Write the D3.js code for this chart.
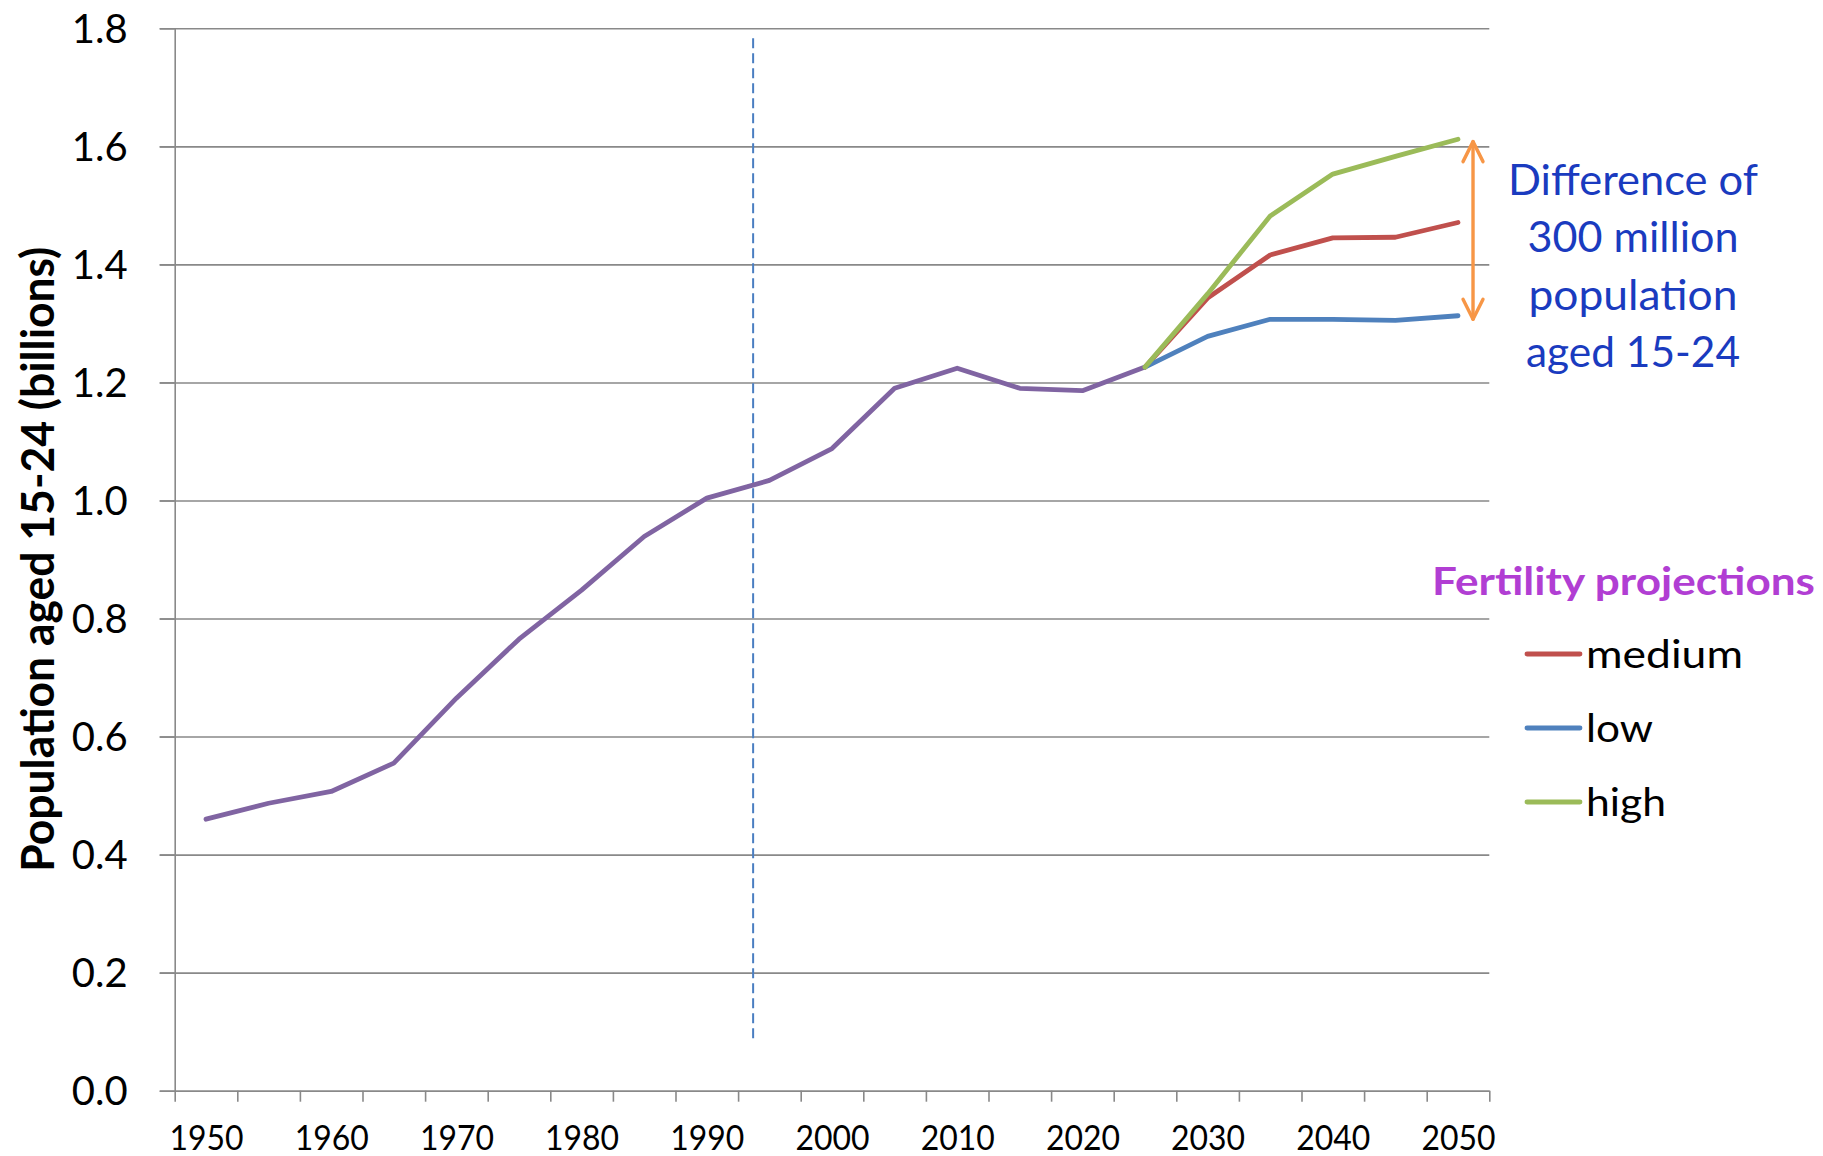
<!DOCTYPE html>
<html>
<head>
<meta charset="utf-8">
<script src="https://cdn.jsdelivr.net/npm/d3@7"></script>
<style>
  body { margin: 0; background: #ffffff; }
  svg { display: block; }
  text { font-family: Lato, "Open Sans", "Noto Sans", sans-serif; }
</style>
</head>
<body>
<svg id="chart" width="1823" height="1156"></svg>
<script>
// ---------------- data ----------------
const years = [1950,1955,1960,1965,1970,1975,1980,1985,1990,1995,2000,2005,2010,2015,2020,2025,2030,2035,2040,2045,2050];
const tickLabels = ["1950","1960","1970","1980","1990","2000","2010","2020","2030","2040","2050"];
const yTicks = [0,0.2,0.4,0.6,0.8,1.0,1.2,1.4,1.6,1.8];

const estimateYears = [1950,1955,1960,1965,1970,1975,1980,1985,1990,1995,2000,2005,2010,2015,2020,2025];
const estimates = [0.460,0.487,0.507,0.555,0.665,0.765,0.848,0.939,1.004,1.034,1.088,1.190,1.224,1.190,1.186,1.226];

const projYears = [2025,2030,2035,2040,2045,2050];
const medium = [1.226,1.343,1.416,1.445,1.446,1.471];
const low    = [1.226,1.278,1.307,1.307,1.305,1.313];
const high   = [1.226,1.350,1.482,1.553,1.583,1.612];

const seriesNames = ["medium","low","high"];
const legendTitle = "Fertility projections";
const yTitle = "Population aged 15-24 (billions)";
const noteLines = ["Difference of","300 million","population","aged 15-24"];

const markerYear = 1993.7;          // dashed vertical reference line
const markerRange = [0.088, 1.783];
const arrowYear = 2051.2;           // double-headed arrow
const arrowRange = [1.307, 1.608];

// ---------------- layout ----------------
const colors = { estimate:"#8064A2", medium:"#C0504D", low:"#4F81BD", high:"#9BBB59" };
const gridColor = "#898989";
const svg = d3.select("#chart");

const plotL = 174.7, plotR = 1489.3, plotT = 28.3, plotB = 1090.7;
const x = d3.scaleLinear().domain([1947.5, 2052.5]).range([plotL, plotR]);
const y = d3.scaleLinear().domain([0, 1.8]).range([plotB, plotT]);

// gridlines
const grid = svg.append("g").attr("transform", `translate(${plotL - 15},0)`)
  .call(d3.axisRight(y).tickValues(yTicks).tickSize(plotR - plotL + 15).tickFormat(""));
grid.select(".domain").remove();
grid.selectAll("line").attr("stroke", gridColor).attr("stroke-width", 1.6);

// y axis
const yAxis = svg.append("g").attr("transform", `translate(${plotL},0)`)
  .call(d3.axisLeft(y).tickValues(yTicks).tickSize(15).tickSizeOuter(0).tickFormat(d3.format(".1f")));
yAxis.select(".domain").attr("stroke", gridColor).attr("stroke-width", 1.6);
yAxis.selectAll("line").attr("stroke", gridColor).attr("stroke-width", 1.6);
yAxis.selectAll("text")
  .attr("x", -47).attr("dy", 14)
  .attr("font-size", 40).attr("fill", "#000")
  .style("font-family", "Lato, sans-serif");

// x axis (category boundaries as ticks)
const boundaries = d3.range(0, years.length + 1).map(i => 1947.5 + 5 * i);
const xAxis = svg.append("g").attr("transform", `translate(0,${plotB})`)
  .call(d3.axisBottom(x).tickValues(boundaries).tickSize(11).tickSizeOuter(0).tickFormat(""));
xAxis.select(".domain").attr("stroke", gridColor).attr("stroke-width", 1.6);
xAxis.selectAll("line").attr("stroke", gridColor).attr("stroke-width", 1.6);

const labelYears = tickLabels.map(Number);
const xLab = svg.append("g").attr("transform", `translate(0,${plotB})`)
  .call(d3.axisBottom(x).tickValues(labelYears).tickSize(0).tickFormat((d, i) => tickLabels[i]));
xLab.select(".domain").remove();
xLab.selectAll("text")
  .attr("y", 59).attr("dy", 0)
  .attr("font-size", 34).attr("fill", "#000")
  .attr("textLength", 74).attr("lengthAdjust", "spacingAndGlyphs")
  .style("font-family", "Lato, sans-serif");

// y title
svg.append("text")
  .attr("transform", `translate(54,${(246.7 + 871.7) / 2}) rotate(-90)`)
  .attr("text-anchor", "middle")
  .attr("font-size", 46).attr("font-weight", "bold").attr("fill", "#000")
  .attr("textLength", 625).attr("lengthAdjust", "spacingAndGlyphs")
  .text(yTitle);

// dashed reference line
svg.append("line")
  .attr("x1", x(markerYear)).attr("x2", x(markerYear))
  .attr("y1", y(markerRange[1])).attr("y2", y(markerRange[0]))
  .attr("stroke", "#4A7EC1").attr("stroke-width", 2).attr("stroke-dasharray", "10,5");

// series
const line = d3.line().x(d => x(d[0])).y(d => y(d[1]));
function drawSeries(xs, vs, color) {
  svg.append("path")
    .datum(xs.map((yr, i) => [yr, vs[i]]))
    .attr("d", line)
    .attr("fill", "none").attr("stroke", color).attr("stroke-width", 4.8)
    .attr("stroke-linecap", "round").attr("stroke-linejoin", "round");
}
drawSeries(estimateYears, estimates, colors.estimate);
const projData = { medium, low, high };
seriesNames.forEach(n => drawSeries(projYears, projData[n], colors[n]));

// double-headed arrow
const ax = x(arrowYear), ayTop = y(arrowRange[1]), ayBot = y(arrowRange[0]);
const arrow = svg.append("g").attr("stroke", "#F79646").attr("stroke-width", 3.4)
  .attr("fill", "none").attr("stroke-linecap", "round").attr("stroke-linejoin", "round");
arrow.append("line").attr("x1", ax).attr("x2", ax).attr("y1", ayTop).attr("y2", ayBot);
arrow.append("path").attr("d", `M${ax - 10},${ayTop + 20}L${ax},${ayTop}L${ax + 10},${ayTop + 20}`);
arrow.append("path").attr("d", `M${ax - 10},${ayBot - 20}L${ax},${ayBot}L${ax + 10},${ayBot - 20}`);

// annotation text
const noteWidths = [250, 211, 209, 214];
const noteBaselines = [195, 252, 310, 367];
svg.append("g").selectAll("text").data(noteLines).join("text")
  .attr("x", 1633).attr("y", (d, i) => noteBaselines[i])
  .attr("text-anchor", "middle")
  .attr("font-size", 42).attr("fill", "#1A3BBF")
  .attr("textLength", (d, i) => noteWidths[i]).attr("lengthAdjust", "spacingAndGlyphs")
  .text(d => d);

// legend
svg.append("text")
  .attr("x", 1432).attr("y", 595)
  .attr("font-size", 39).attr("font-weight", "bold").attr("fill", "#B13ED3")
  .attr("textLength", 383).attr("lengthAdjust", "spacingAndGlyphs")
  .text(legendTitle);

const legendLineY = [654, 728, 802];
const legendTextW = [157, 67, 80];
const lg = svg.append("g").selectAll("g").data(seriesNames).join("g");
lg.append("line")
  .attr("x1", 1527).attr("x2", 1580)
  .attr("y1", (d, i) => legendLineY[i]).attr("y2", (d, i) => legendLineY[i])
  .attr("stroke", d => colors[d]).attr("stroke-width", 4.8).attr("stroke-linecap", "round");
lg.append("text")
  .attr("x", 1586).attr("y", (d, i) => legendLineY[i] + 14)
  .attr("font-size", 39).attr("fill", "#000")
  .attr("textLength", (d, i) => legendTextW[i]).attr("lengthAdjust", "spacingAndGlyphs")
  .text(d => d);
</script>
</body>
</html>
